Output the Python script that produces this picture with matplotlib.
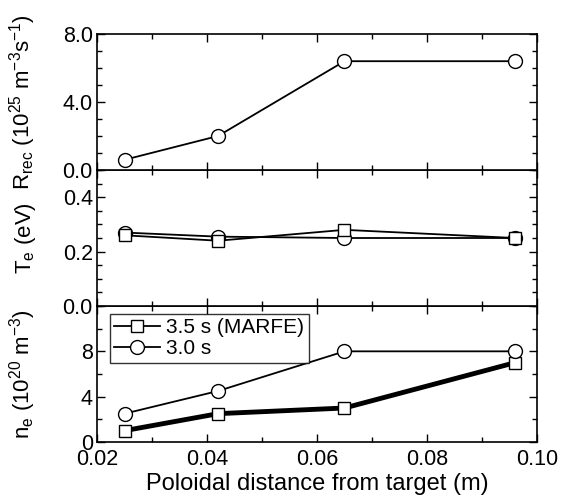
import numpy as np
import matplotlib
import matplotlib.pyplot as plt
from matplotlib.ticker import MultipleLocator, FixedLocator

matplotlib.rcParams['font.family'] = ['Liberation Sans', 'DejaVu Sans']
matplotlib.rcParams['font.size'] = 15.5
matplotlib.rcParams['mathtext.fontset'] = 'custom'
matplotlib.rcParams['mathtext.rm'] = 'Liberation Sans'
matplotlib.rcParams['mathtext.it'] = 'Liberation Sans'

# data
dist = [0.025, 0.042, 0.065, 0.096]
r_rec_30 = [0.6, 2.0, 6.4, 6.4]
te_35 = [0.26, 0.24, 0.28, 0.25]
te_30 = [0.27, 0.255, 0.25, 0.25]
ne_35 = [1.0, 2.5, 3.0, 7.0]
ne_30 = [2.5, 4.5, 8.0, 8.0]
labels = ['3.5 s (MARFE)', '3.0 s']

fig = plt.figure(figsize=(5.67, 4.98), dpi=100)
h = 136 / 498.
x0 = 97 / 567.
w = 440 / 567.
bot = 56 / 498.
ax3 = fig.add_axes([x0, bot, w, h])
ax2 = fig.add_axes([x0, bot + h, w, h], sharex=ax3)
ax1 = fig.add_axes([x0, bot + 2 * h, w, h], sharex=ax3)

msq = dict(marker='s', markersize=9, markerfacecolor='white', markeredgecolor='black', markeredgewidth=1)
mci = dict(marker='o', markersize=10, markerfacecolor='white', markeredgecolor='black', markeredgewidth=1)

ax1.plot(dist, r_rec_30, color='black', lw=1.3, **mci)
ax1.set_ylim(0, 8)
ax1.yaxis.set_major_locator(FixedLocator([0, 4, 8]))
ax1.yaxis.set_minor_locator(MultipleLocator(1))
ax1.set_yticklabels(['0.0', '4.0', '8.0'])
ax1.set_ylabel(r'R$_{\rm rec}$ (10$^{25}$ m$^{-3}$s$^{-1}$)', fontsize=16)

ax2.plot(dist, te_30, color='black', lw=1.3, **mci)
ax2.plot(dist, te_35, color='black', lw=1.3, **msq)
ax2.set_ylim(0, 0.5)
ax2.yaxis.set_major_locator(FixedLocator([0, 0.2, 0.4]))
ax2.yaxis.set_minor_locator(MultipleLocator(0.05))
ax2.set_yticklabels(['0.0', '0.2', '0.4'])
ax2.set_ylabel(r'T$_{\rm e}$ (eV)', fontsize=16)

ax3.plot(dist, ne_35, color='black', lw=3.5, label=labels[0], **msq)
ax3.plot(dist, ne_30, color='black', lw=1.3, label=labels[1], **mci)
ax3.set_ylim(0, 12)
ax3.yaxis.set_major_locator(FixedLocator([0, 4, 8]))
ax3.yaxis.set_minor_locator(MultipleLocator(2))
ax3.set_ylabel(r'n$_{\rm e}$ (10$^{20}$ m$^{-3}$)', fontsize=16)
leg = ax3.legend(loc='upper left', bbox_to_anchor=(0.03, 0.94), frameon=True, fancybox=False,
                 edgecolor='black', handlelength=2.2, handletextpad=0.3, borderpad=0.2,
                 labelspacing=0.1, borderaxespad=0.0, fontsize=15)
leg.get_frame().set_linewidth(1.0)
for line in leg.get_lines():
    line.set_linewidth(1.3)

ax3.set_xlim(0.02, 0.10)
ax3.xaxis.set_major_locator(MultipleLocator(0.02))
ax3.xaxis.set_minor_locator(MultipleLocator(0.01))
ax3.xaxis.set_major_formatter(matplotlib.ticker.FormatStrFormatter('%.2f'))
ax3.set_xlabel('Poloidal distance from target (m)', fontsize=17, labelpad=2)

for ax in (ax1, ax2, ax3):
    ax.tick_params(which='both', direction='in', top=True, right=True)
    ax.tick_params(which='major', length=6, width=1, pad=3)
    ax.tick_params(which='minor', length=3.5, width=1)
    for s in ax.spines.values():
        s.set_linewidth(1.2)
ax3.tick_params(axis='x', which='major', pad=5)
for ax in (ax1, ax2):
    plt.setp(ax.get_xticklabels(), visible=False)

for ax in (ax1, ax2, ax3):
    ax.yaxis.set_label_coords(-0.135, 0.5)

fig.savefig('out.png', dpi=100)
